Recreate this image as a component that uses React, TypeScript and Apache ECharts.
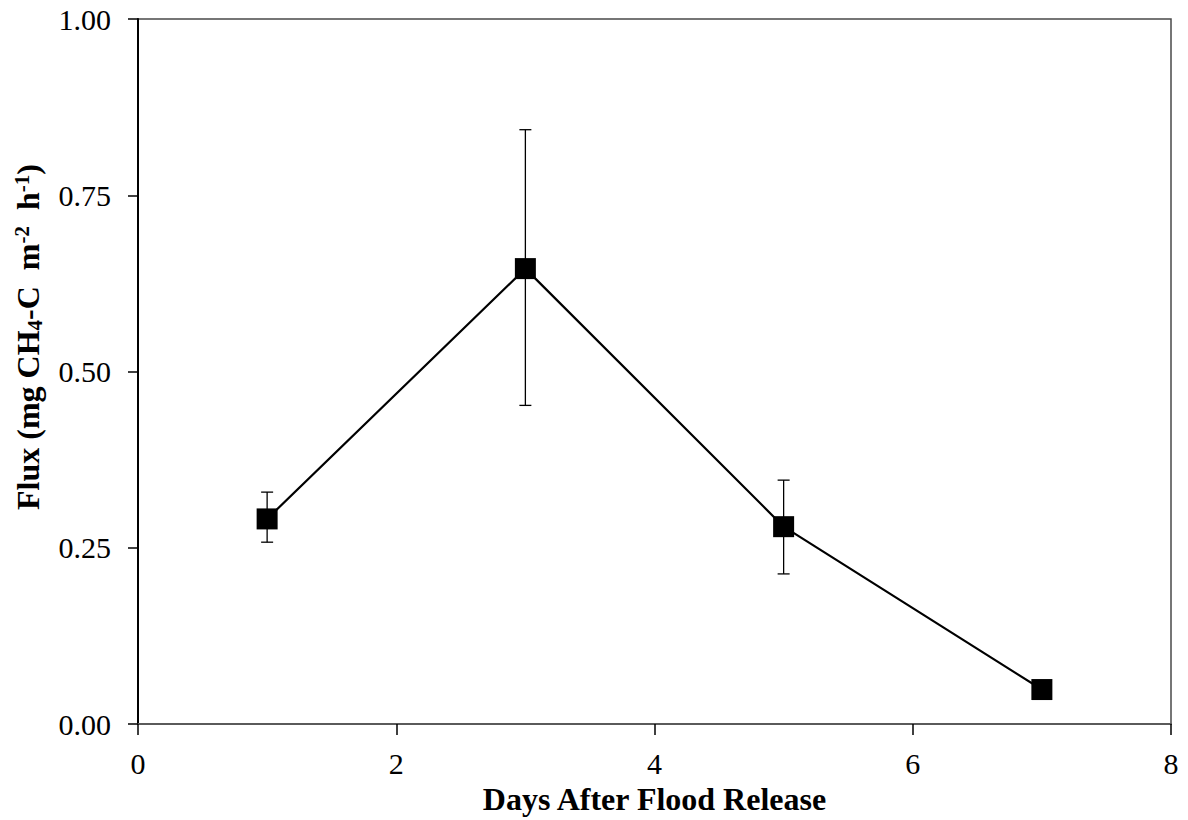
import React, { useEffect, useRef } from "react";
import * as echarts from "echarts";

const days = [1, 3, 5, 7];
const flux = [0.291, 0.646, 0.28, 0.049];
const errLow = [0.258, 0.452, 0.213, 0.049];
const errHigh = [0.329, 0.843, 0.346, 0.049];
const xTicks = [0, 2, 4, 6, 8];
const yTicks = [0, 0.25, 0.5, 0.75, 1.0];

const FONT = "'Liberation Serif', 'Times New Roman', serif";

export default function App() {
  const ref = useRef<HTMLDivElement>(null);
  useEffect(() => {
    if (!ref.current) return;
    const chart = echarts.init(ref.current, null, { renderer: "svg" });
    const errData = days.map((d, i) => [d, errLow[i], errHigh[i]]).filter((r) => r[2] - r[1] > 0.001);
    chart.setOption({
      animation: false,
      backgroundColor: "#ffffff",
      grid: { left: 138, right: 17, top: 19, bottom: 93, show: true, borderColor: "#4a4a4a", borderWidth: 1.5 },
      graphic: [
        {
          type: "text",
          x: 28,
          y: 337,
          rotation: Math.PI / 2,
          style: {
            text: "{b|Flux (mg CH}{sub|4}{b|-C  m}{sup|-2}{b|  h}{sup|-1}{b|)}",
            align: "center",
            verticalAlign: "middle",
            fill: "#000",
            rich: {
              b: { fontFamily: FONT, fontSize: 32, fontWeight: "bold", fill: "#000" },
              sub: { fontFamily: FONT, fontSize: 21, fontWeight: "bold", fill: "#000", padding: [14, 0, 0, 0] },
              sup: { fontFamily: FONT, fontSize: 21, fontWeight: "bold", fill: "#000", padding: [0, 0, 12, 0] },
            },
          },
        },
      ],
      xAxis: {
        type: "value",
        min: xTicks[0],
        max: xTicks[xTicks.length - 1],
        interval: 2,
        name: "Days After Flood Release",
        nameLocation: "middle",
        nameGap: 57,
        nameTextStyle: { fontFamily: FONT, fontSize: 32, fontWeight: "bold", color: "#000" },
        axisLine: { show: true, onZero: false, lineStyle: { color: "#5a5a5a", width: 2 } },
        axisTick: { show: true, inside: false, length: 11, lineStyle: { color: "#000", width: 1.5 } },
        axisLabel: { fontFamily: FONT, fontSize: 30, color: "#000", margin: 24, formatter: (v: number) => String(v) },
        splitLine: { show: false },
      },
      yAxis: {
        type: "value",
        min: yTicks[0],
        max: yTicks[yTicks.length - 1],
        interval: 0.25,
        axisLine: { show: true, onZero: false, lineStyle: { color: "#000", width: 2 } },
        axisTick: { show: true, inside: false, length: 10, lineStyle: { color: "#000", width: 1.5 } },
        axisLabel: { fontFamily: FONT, fontSize: 30, color: "#000", margin: 27, formatter: (v: number) => v.toFixed(2) },
        splitLine: { show: false },
      },
      series: [
        {
          type: "custom",
          data: errData,
          z: 1,
          renderItem: (params: any, api: any) => {
            const x = api.value(0);
            const lo = api.coord([x, api.value(1)]);
            const hi = api.coord([x, api.value(2)]);
            const cap = 6;
            const st = { stroke: "#000", lineWidth: 1.3 };
            return {
              type: "group",
              children: [
                { type: "line", shape: { x1: hi[0], y1: hi[1], x2: lo[0], y2: lo[1] }, style: st },
                { type: "line", shape: { x1: hi[0] - cap, y1: hi[1], x2: hi[0] + cap, y2: hi[1] }, style: st },
                { type: "line", shape: { x1: lo[0] - cap, y1: lo[1], x2: lo[0] + cap, y2: lo[1] }, style: st },
              ],
            };
          },
        },
        {
          type: "line",
          data: days.map((d, i) => [d, flux[i]]),
          symbol: "rect",
          symbolSize: 21,
          z: 3,
          lineStyle: { color: "#000", width: 2.2 },
          itemStyle: { color: "#000" },
        },
      ],
    });
    return () => chart.dispose();
  }, []);
  return <div ref={ref} style={{ position: "fixed", left: 0, top: 0, width: 1188, height: 820 }} />;
}
